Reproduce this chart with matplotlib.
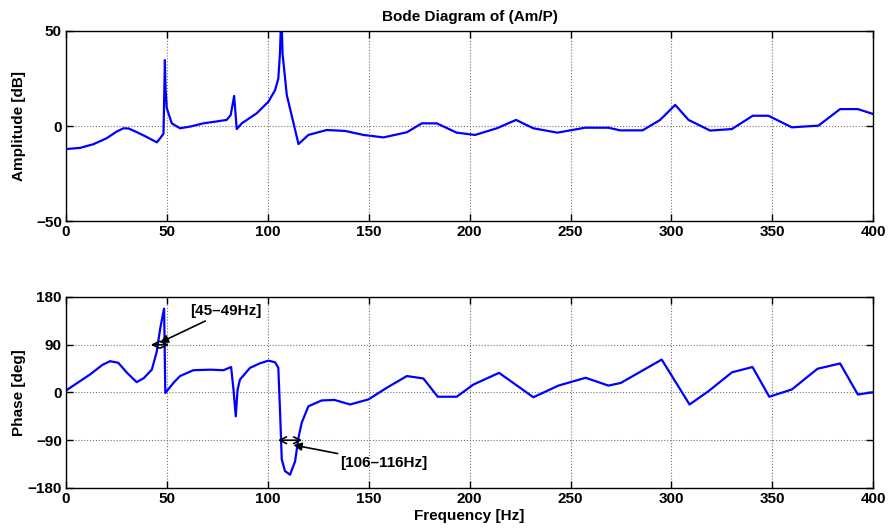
import numpy as np
import matplotlib
matplotlib.use("Agg")
import matplotlib.pyplot as plt

plt.rcParams['font.family'] = ['Liberation Sans', 'DejaVu Sans']
plt.rcParams['font.weight'] = 'bold'
plt.rcParams['font.size'] = 11

##############################################################################
# Data
##############################################################################

mag_freq = [0.5, 7, 13.5, 20, 25, 28.4, 31, 35, 40, 45, 46.6, 48.3, 49.0, 49.3,
            49.9, 52.4, 56.5, 62, 68, 74, 79.6, 81.6, 83.3, 84.6, 87.1, 94.5,
            100.3, 103.6, 105.2, 106.0, 106.7, 107.3, 109.4, 115.2, 120.1,
            129.2, 138.3, 147.4, 157.3, 168.9, 176.3, 183.7, 193.6, 202.7,
            213.5, 223, 231.6, 243.5, 257.2, 268.8, 274.6, 285.7, 294.4, 301.9,
            308.5, 319.2, 330, 340.3, 348.1, 359.7, 372.9, 383.6, 392.4, 400]
mag_db = [-12.1, -11.5, -9.6, -6.5, -3.0, -1.2, -1.3, -3.2, -5.8, -8.6, -6.5,
          -4.0, 34.7, 20, 9.5, 1.4, -1.2, -0.2, 1.4, 2.3, 3.2, 5.8, 15.8, -1.6,
          1.4, 6.7, 12.8, 18.9, 25, 38, 60, 38, 16.3, -9.5, -4.7, -2.1, -2.6,
          -4.7, -6.0, -3.3, 1.4, 1.4, -3.5, -4.7, -1.2, 3.2, -1.2, -3.5, -0.9,
          -0.9, -2.3, -2.3, 3.2, 11.1, 3.2, -2.4, -1.6, 5.4, 5.4, -0.7, 0.2,
          8.9, 8.9, 6.3]

phase_freq = [0.5, 11.9, 18, 21.8, 25.9, 30, 35, 38.5, 42.5, 44.9, 46.6, 48.3,
              48.6, 49.2, 53.2, 56.5, 63.1, 71.4, 78, 81.8, 83, 84.1, 85, 86.2,
              91.2, 96.1, 100.3, 103.6, 105.2, 106.1, 106.9, 108.5, 111, 113.5,
              115.2, 116.8, 120.1, 126.7, 133, 140.8, 149.9, 159, 168.9, 177.1,
              184.2, 193.6, 201.9, 214.6, 231.6, 244, 257.5, 268.8, 274.9,
              295.2, 309, 318.4, 330, 340.2, 348.5, 359.7, 372.4, 383.6, 392.4,
              400]
phase_deg = [5, 34, 52, 59, 56, 38, 19.5, 27, 43, 76, 119, 153, 158, -1, 18,
             31, 42, 43, 42, 48, 5, -45, 5, 24.5, 46.5, 55, 60, 57, 46.5, -40,
             -126, -148, -155, -130, -85, -57, -26, -15, -14, -22.6, -13, 9,
             31, 26.4, -8, -8, 15, 37, -9, 13, 27.7, 13, 18, 62, -22.6, 2.5,
             38, 48, -8, 5.7, 44.7, 54.7, -3.8, 0.5]

x_ticks = [0, 50, 100, 150, 200, 250, 300, 350, 400]
mag_ticks = [-50, 0, 50]
phase_ticks = [-180, -90, 0, 90, 180]

##############################################################################
# Plotting
##############################################################################

def style_ax(ax, yticks, ylim):
    ax.set_xlim(0, 400)
    ax.set_ylim(*ylim)
    ax.set_xticks(x_ticks)
    ax.set_yticks(yticks)
    ax.grid(True, linestyle=':', color='0.45', linewidth=0.8)
    ax.tick_params(direction='in', top=True, right=True, length=5,
                   width=1, labelsize=11, pad=3)
    for sp in ax.spines.values():
        sp.set_linewidth(1)


fig = plt.figure(figsize=(8.9, 5.28), dpi=100)

ax1 = fig.add_axes([0.0742, 0.5814, 0.9069, 0.3599])
ax1.plot(mag_freq, mag_db, color=(0, 0, 1), linewidth=1.6)
style_ax(ax1, mag_ticks, (-50, 50))
ax1.set_ylabel("Amplitude [dB]", fontweight='bold')
ax1.set_title("Bode Diagram of (Am/P)", fontweight='bold', fontsize=11, pad=7)

ax2 = fig.add_axes([0.0742, 0.0758, 0.9069, 0.3617])
ax2.plot(phase_freq, phase_deg, color=(0, 0, 1), linewidth=1.6)
style_ax(ax2, phase_ticks, (-180, 180))
ax2.set_ylabel("Phase [deg]", fontweight='bold')
ax2.set_xlabel("Frequency [Hz]", fontweight='bold', labelpad=2)

ax1.yaxis.set_label_coords(-0.05, 0.5)
ax2.yaxis.set_label_coords(-0.05, 0.5)

# band markers
ax2.annotate("", xy=(42, 90), xytext=(51, 90),
             arrowprops=dict(arrowstyle='<->', color='k', lw=1.2,
                             shrinkA=0, shrinkB=0, mutation_scale=12))
ax2.annotate("", xy=(105, -90), xytext=(117, -90),
             arrowprops=dict(arrowstyle='<->', color='k', lw=1.2,
                             shrinkA=0, shrinkB=0, mutation_scale=12))

# text arrows
ax2.annotate("[45\u201349Hz]", xy=(46.5, 94), xytext=(61.5, 140),
             ha='left', va='bottom', fontweight='bold',
             arrowprops=dict(arrowstyle='-|>', color='k', lw=1.2,
                             shrinkA=0, shrinkB=0, mutation_scale=12))
ax2.annotate("[106\u2013116Hz]", xy=(112.7, -99), xytext=(136, -132),
             ha='left', va='center', fontweight='bold',
             arrowprops=dict(arrowstyle='-|>', color='k', lw=1.2,
                             shrinkA=0, shrinkB=0, mutation_scale=12))

fig.savefig("out.png", dpi=100)
